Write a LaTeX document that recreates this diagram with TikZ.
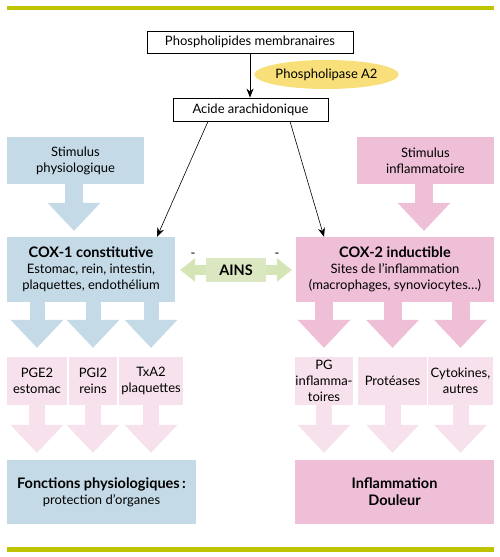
\documentclass[tikz,border=0pt]{standalone}
\usepackage{fontspec}
\setmainfont{Lato}
\usetikzlibrary{positioning,shapes,arrows.meta}

\definecolor{vertbarre}{RGB}{190,196,0}
\definecolor{bleu}{RGB}{196,218,230}
\definecolor{rose}{RGB}{238,191,214}
\definecolor{rosepale}{RGB}{246,225,236}
\definecolor{vertains}{RGB}{219,231,193}
\definecolor{vertfleche}{RGB}{214,229,182}
\definecolor{jaune}{RGB}{248,223,122}

\newcommand{\titre}[1]{{\fontsize{14.5}{17}\selectfont\bfseries #1}}

\tikzset{
  cadre/.style={draw, line width=0.8pt, minimum height=22pt, inner sep=0pt},
  bloc/.style={fill=#1, align=center, inner sep=0pt},
  fleche/.style={draw=#1, line width=16pt,
    -{Triangle[width=53pt,length=28pt,line width=0pt]}},
}

\begin{document}
\begin{tikzpicture}[x=1pt, y=-1pt, font=\fontsize{13}{15.8}\selectfont]
  \useasboundingbox (0,0) rectangle (500,557);
  \fill[vertbarre] (7,6) rectangle (494,10);
  \fill[vertbarre] (7,547) rectangle (494,552);

  % haut
  \node[cadre, minimum width=206pt] (phos) at (250,42) {Phospholipides membranaires};
  \node[ellipse, fill=jaune, inner sep=0pt, minimum width=141pt, minimum height=29pt] (pla2) at (326.5,74.5) {Phospholipase A2};
  \node[cadre, minimum width=155pt, minimum height=23pt] (acide) at (250.5,109.5) {Acide arachidonique};

  % stimulus et COX
  \node[bloc=bleu, minimum width=137pt, minimum height=47pt] (stimP) at (75.5,160.5) {Stimulus\\physiologique};
  \node[bloc=rose, minimum width=137pt, minimum height=47pt] (stimI) at (425.5,160.5) {Stimulus\\inflammatoire};
  \node[bloc=bleu, minimum width=168pt, minimum height=65pt] (cox1) at (91,269.5) {\titre{COX-1 constitutive}\\Estomac, rein, intestin,\\plaquettes, endothélium};
  \node[bloc=rose, minimum width=198pt, minimum height=65pt] (cox2) at (395,269.5) {\titre{COX-2 inductible}\\Sites de l’inflammation\\(macrophages, synoviocytes…)};

  % AINS
  \draw[vertfleche, line width=10pt, {Triangle[width=24pt,length=15pt,line width=0pt]}-{Triangle[width=24pt,length=15pt,line width=0pt]}, shorten <=5pt, shorten >=4pt] (cox1.east |- 0,270) -- (cox2.west |- 0,270);
  \node[bloc=vertains, minimum width=60pt, minimum height=24pt] (ains) at (236,270) {\titre{AINS}};
  \node (moinsG) at (193,255) {-};
  \node (moinsD) at (277,255) {-};

  % produits
  \node[bloc=rosepale, minimum width=60pt, minimum height=48pt] (pge) at (37,381) {PGE2\\estomac};
  \node[bloc=rosepale, minimum width=48pt, minimum height=48pt] (pgi) at (93,381) {PGI2\\reins};
  \node[bloc=rosepale, minimum width=64pt, minimum height=48pt] (txa) at (151,381) {TxA2\\plaquettes};
  \node[bloc=rosepale, minimum width=58pt, minimum height=48pt] (pginf) at (324,381) {PG\\inflamma-\\toires};
  \node[bloc=rosepale, minimum width=69pt, minimum height=48pt] (prot) at (392.5,381) {Protéases};
  \node[bloc=rosepale, minimum width=65pt, minimum height=48pt] (cyto) at (460.5,381) {Cytokines,\\autres};

  % fonctions
  \node[bloc=bleu, minimum width=189pt, minimum height=64pt] (fonct) at (101.5,492) {\titre{Fonctions physiologiques\,:}\\protection d’organes};
  \node[bloc=rose, minimum width=199pt, minimum height=64pt, font=\fontsize{14.5}{17}\selectfont\bfseries] (infl) at (394.5,492) {Inflammation\\Douleur};

  % fleches noires
  \draw[line width=0.8pt, -{Stealth[length=9pt,width=7pt]}] (phos.south) -- (phos.south |- acide.north);
  \draw[line width=0.6pt, -{Stealth[length=9pt,width=7pt]}] ([xshift=-42.5pt]acide.south) -- ([xshift=66pt]cox1.north);
  \draw[line width=0.6pt, -{Stealth[length=9pt,width=7pt]}] ([xshift=39.5pt]acide.south) -- ([xshift=-71pt]cox2.north);

  % grosses fleches
  \draw[fleche=bleu, line width=18pt, shorten >=6pt] ([xshift=-1.5pt]stimP.south) -- ([xshift=-1.5pt]stimP.south |- cox1.north);
  \draw[fleche=rose, line width=18pt, shorten >=6pt] ([xshift=-1.5pt]stimI.south) -- ([xshift=-1.5pt]stimI.south |- cox2.north);
  \foreach \p in {pge,pgi,txa}{
    \draw[fleche=bleu, line width=15pt, shorten >=9pt] (cox1.south -| \p.north) -- (\p.north);
    \draw[fleche=rosepale, shorten >=7pt] (\p.south) -- (\p.south |- fonct.north);
  }
  \foreach \p in {pginf,prot,cyto}{
    \draw[fleche=rose, line width=18pt, shorten >=9pt] (cox2.south -| \p.north) -- (\p.north);
    \draw[fleche=rosepale, shorten >=7pt] (\p.south) -- (\p.south |- infl.north);
  }
\end{tikzpicture}
\end{document}
